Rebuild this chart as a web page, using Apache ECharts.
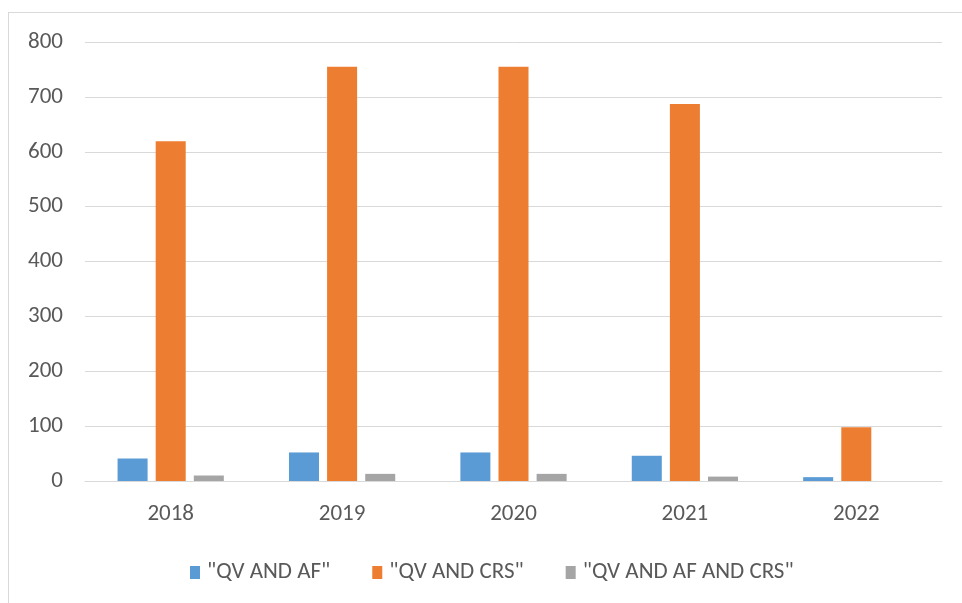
<!DOCTYPE html>
<html>
<head>
<meta charset="utf-8">
<script src="https://cdn.jsdelivr.net/npm/echarts@6/dist/echarts.min.js"></script>
<style>
  html, body { margin: 0; padding: 0; background: #fff; }
  #frame { position: absolute; left: 8px; top: 12px; width: 960px; height: 600px; border: 1px solid #d9d9d9; box-sizing: border-box; }
  #chart { position: absolute; left: 0; top: 0; width: 962px; height: 603px; }
</style>
</head>
<body>
<div id="frame"></div>
<div id="chart"></div>
<script>
const years = ['2018', '2019', '2020', '2021', '2022'];
const qvAf = [41, 52, 52, 46, 7];
const qvCrs = [619, 755, 755, 687, 98];
const qvAfCrs = [10, 13, 13, 8, 0];
const yTicks = { min: 0, max: 800, interval: 100 };

const font = "Carlito, 'Liberation Sans Narrow', 'Liberation Sans', sans-serif";
const textColor = '#595959';

const chart = echarts.init(document.getElementById('chart'));
const barSeries = (name, data, color) => ({
  name, type: 'bar', data,
  barCategoryGap: '38%', barGap: '27%',
  itemStyle: { color },
  emphasis: { disabled: true }
});

chart.setOption({
  animation: false,
  textStyle: { fontFamily: font },
  grid: { left: 85, right: 20, top: 42, bottom: 122 },
  xAxis: {
    type: 'category', data: years,
    axisLine: { lineStyle: { color: '#d9d9d9', width: 1 } },
    axisTick: { show: false },
    axisLabel: { color: textColor, fontSize: 23, fontFamily: font, margin: 22 }
  },
  yAxis: {
    type: 'value', min: yTicks.min, max: yTicks.max, interval: yTicks.interval,
    axisLine: { show: false }, axisTick: { show: false },
    splitLine: { lineStyle: { color: '#d9d9d9', width: 1 } },
    axisLabel: { color: textColor, fontSize: 23, fontFamily: font, margin: 22 }
  },
  legend: {
    top: 556, left: 185, itemGap: 42,
    itemWidth: 10, itemHeight: 13, icon: 'rect',
    textStyle: { color: textColor, fontSize: 23, fontFamily: font, padding: [0, 0, 0, 2] }
  },
  series: [
    barSeries('"QV AND AF"', qvAf, '#5B9BD5'),
    barSeries('"QV AND CRS"', qvCrs, '#ED7D31'),
    barSeries('"QV AND AF AND CRS"', qvAfCrs, '#A5A5A5')
  ]
});
</script>
</body>
</html>
